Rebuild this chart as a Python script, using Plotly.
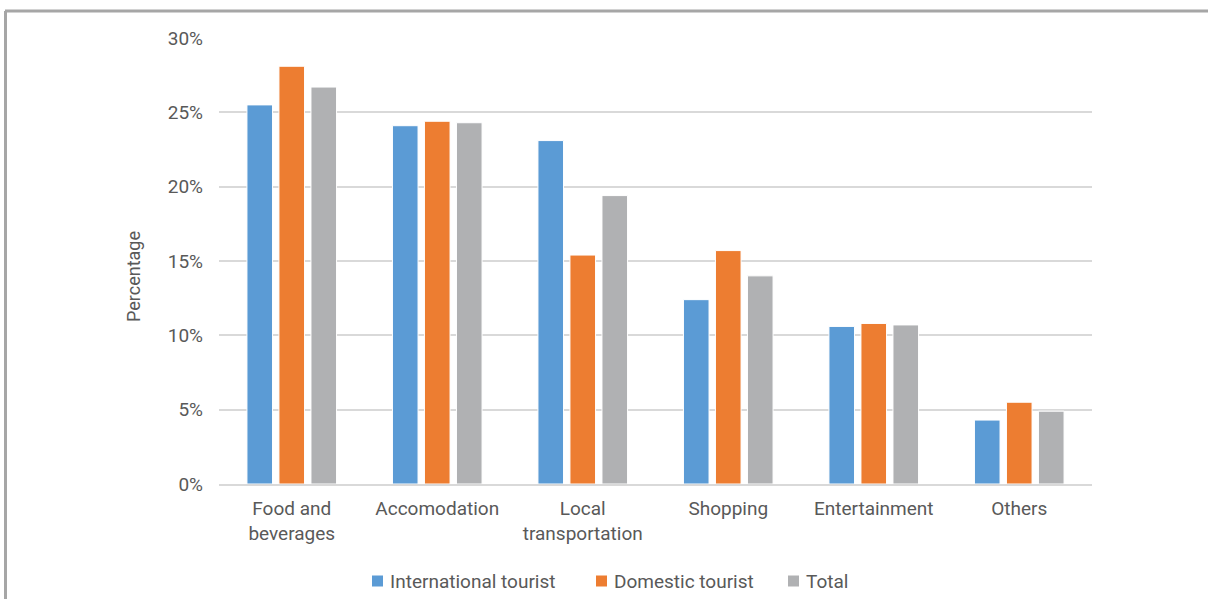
import plotly.graph_objects as go

# Share of tourist spending by category (%)
categories = ["Food and<br>beverages", "Accomodation", "Local<br>transportation",
              "Shopping", "Entertainment", "Others"]
international = [25.5, 24.1, 23.1, 12.4, 10.6, 4.3]
domestic = [28.1, 24.4, 15.4, 15.7, 10.8, 5.5]
total = [26.7, 24.3, 19.4, 14.0, 10.7, 4.9]

tick_vals = [0, 5, 10, 15, 20, 25, 30]
tick_text = ["0%", "5%", "10%", "15%", "20%", "25%", "30%"]

series = [
    ("International tourist", international, "#5b9bd5"),
    ("Domestic tourist", domestic, "#ed7d31"),
    ("Total", total, "#b0b1b3"),
]

TEXT = "#595959"
FONT = "Roboto"

fig = go.Figure()
for name, vals, color in series:
    fig.add_trace(go.Bar(
        x=categories, y=vals, name=name, showlegend=False,
        marker=dict(color=color, line=dict(color="white", width=1)),
    ))

W, H = 1208, 599
L, R, T, B = 219, 116, 38, 115
pw, ph = W - L - R, H - T - B


def px(x):
    return (x - L) / pw


def py(y):
    return (H - B - y) / ph


# outer frame (top and left edges)
frame = dict(color="#a6a6a6", width=3)
fig.add_shape(type="line", xref="paper", yref="paper",
              x0=px(5), x1=px(1208), y0=py(11), y1=py(11), line=frame)
fig.add_shape(type="line", xref="paper", yref="paper",
              x0=px(5.5), x1=px(5.5), y0=py(11), y1=py(600), line=frame)

# legend row: small square swatch followed by its label
legend_x = [372, 596, 788]
legend_y = 581
for (name, _, color), lx in zip(series, legend_x):
    fig.add_shape(type="rect", xref="paper", yref="paper",
                  x0=px(lx), x1=px(lx + 11), y0=py(legend_y - 5.5), y1=py(legend_y + 5.5),
                  fillcolor=color, line=dict(width=0))
    fig.add_annotation(xref="paper", yref="paper", x=px(lx + 16), y=py(legend_y),
                       xanchor="left", yanchor="middle", showarrow=False,
                       text=name, font=dict(family=FONT, size=19, color=TEXT))

# vertical axis title
fig.add_annotation(xref="paper", yref="paper", x=px(133), y=py(277),
                   xanchor="center", yanchor="middle", showarrow=False, textangle=-90,
                   text="Percentage", font=dict(family=FONT, size=18, color=TEXT))

fig.update_layout(
    width=W, height=H,
    margin=dict(l=L, r=R, t=T, b=B, autoexpand=False),
    paper_bgcolor="white", plot_bgcolor="white",
    font=dict(family=FONT, size=19, color=TEXT),
    barmode="group", bargap=0.34, bargroupgap=0.2,
    showlegend=False,
    xaxis=dict(showline=True, linecolor="#d9d9d9", linewidth=2, ticks="",
               automargin=False, ticklabelstandoff=6,
               tickfont=dict(size=19, color=TEXT)),
    yaxis=dict(range=[0, 30], tickvals=tick_vals, ticktext=tick_text,
               showgrid=True, gridcolor="#d9d9d9", gridwidth=1.5, zeroline=False,
               ticks="", ticklabelstandoff=15, automargin=False,
               tickfont=dict(size=19, color=TEXT)),
)

fig.write_html("out.html")
